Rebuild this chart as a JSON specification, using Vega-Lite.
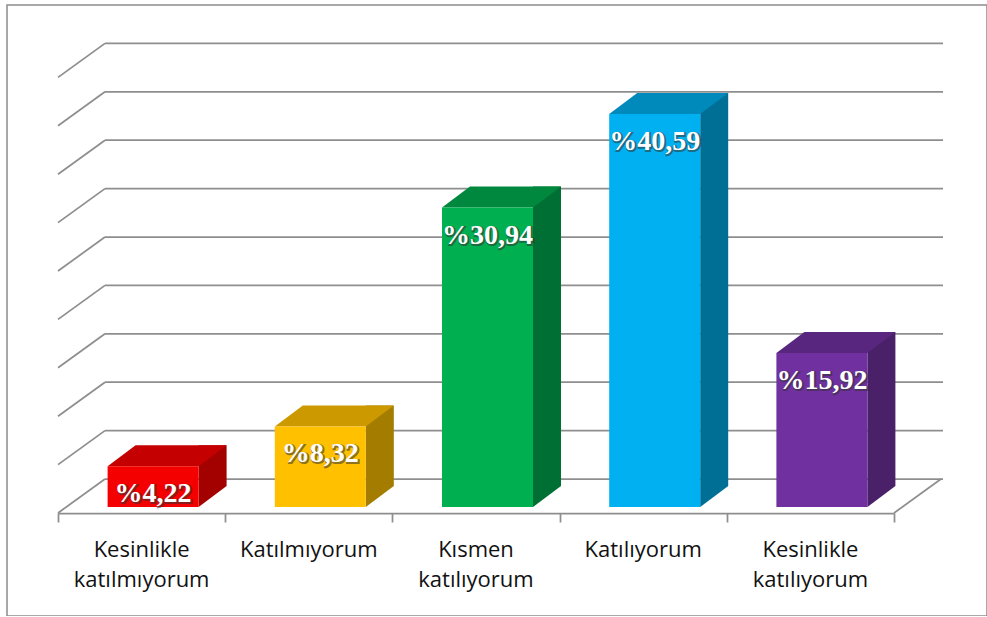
{
  "$schema": "https://vega.github.io/schema/vega-lite/v6.json",
  "width": 980,
  "height": 611,
  "autosize": {"type": "none"},
  "padding": {"left": 7, "top": 5, "right": 0, "bottom": 0},
  "background": "white",
  "config": {
    "view": {"stroke": "#8c8c8c", "strokeWidth": 1.5},
    "locale": {"number": {"decimal": ",", "thousands": ".", "grouping": [3], "currency": ["%", ""]}}
  },
  "datasets": {
    "grid": [{"g": 0}, {"g": 5}, {"g": 10}, {"g": 15}, {"g": 20}, {"g": 25}, {"g": 30}, {"g": 35}, {"g": 40}, {"g": 45}],
    "bars": [
      {"cat": "Kesinlikle katılmıyorum", "v": 4.22},
      {"cat": "Katılmıyorum", "v": 8.32},
      {"cat": "Kısmen katılıyorum", "v": 30.94},
      {"cat": "Katılıyorum", "v": 40.59},
      {"cat": "Kesinlikle katılıyorum", "v": 15.92}
    ]
  },
  "resolve": {"scale": {"x": "independent"}, "axis": {"x": "independent"}},
  "layer": [
    {
      "data": {"name": "grid"},
      "layer": [
        {
          "mark": {"type": "rule", "color": "#8e8e8e", "strokeWidth": 1.75, "xOffset": 47, "x2Offset": 49, "yOffset": -28},
          "encoding": {
            "x": {"datum": 0, "type": "quantitative", "scale": {"domain": [0, 5], "range": [51, 887], "nice": false, "zero": false},
              "axis": {"orient": "bottom", "offset": -103, "values": [0, 1, 2, 3, 4, 5], "labels": false, "ticks": true, "tickSize": 9, "tickColor": "#8e8e8e", "tickWidth": 1.75, "domain": true, "domainColor": "#8e8e8e", "domainWidth": 1.75, "grid": false, "title": null}},
            "x2": {"datum": 5},
            "y": {"field": "g", "type": "quantitative", "scale": {"domain": [0, 45], "range": [502, 66.4], "nice": false}, "axis": null}
          }
        },
        {
          "mark": {"type": "rule", "color": "#8e8e8e", "strokeWidth": 1.75, "yOffset": 6, "x2Offset": 47, "y2Offset": -28},
          "encoding": {
            "x": {"datum": 0, "type": "quantitative"},
            "x2": {"datum": 0},
            "y": {"field": "g", "type": "quantitative"},
            "y2": {"field": "g"}
          }
        },
        {
          "transform": [{"filter": "datum.g == 0"}],
          "mark": {"type": "rule", "color": "#8e8e8e", "strokeWidth": 1.75, "yOffset": 6, "x2Offset": 47, "y2Offset": -28},
          "encoding": {
            "x": {"datum": 5, "type": "quantitative"},
            "x2": {"datum": 5},
            "y": {"field": "g", "type": "quantitative"},
            "y2": {"field": "g"}
          }
        }
      ]
    },
    {
      "data": {"name": "bars"},
      "resolve": {"scale": {"color": "independent"}},
      "encoding": {
        "x": {"field": "cat", "type": "nominal", "sort": null,
          "scale": {"range": [51, 887], "paddingInner": 0, "paddingOuter": 0},
          "axis": {"orient": "bottom", "offset": -77, "ticks": false, "domain": false, "grid": false, "title": null, "labelAngle": 0, "labelPadding": 0,
            "labelFont": "Open Sans", "labelFontSize": 22, "labelColor": "#111111", "labelLineHeight": 30, "labelBaseline": "top",
            "labelExpr": "split(datum.label, ' ')"}}
      },
      "layer": [
        {
          "mark": {"type": "bar", "width": 28, "xOffset": 71, "yOffset": -21, "y2Offset": -21},
          "encoding": {
            "y": {"field": "v", "type": "quantitative", "scale": {"domain": [0, 45], "range": [502, 66.4], "nice": false}, "axis": null},
            "y2": {"datum": 0},
            "color": {"field": "cat", "type": "nominal", "legend": null,
              "scale": {"domain": ["Kesinlikle katılmıyorum", "Katılmıyorum", "Kısmen katılıyorum", "Katılıyorum", "Kesinlikle katılıyorum"],
                "range": ["#a30000", "#a37c00", "#006f33", "#006f96", "#4a2069"]}}
          }
        },
        {
          "mark": {"type": "point", "shape": "M45.5,-21 L45.5,0 L73.5,-21 Z", "size": 4, "filled": true, "opacity": 1, "strokeWidth": 0, "xOffset": 11.5},
          "encoding": {
            "y": {"datum": 0, "type": "quantitative"},
            "color": {"field": "cat", "type": "nominal", "legend": null,
              "scale": {"domain": ["Kesinlikle katılmıyorum", "Katılmıyorum", "Kısmen katılıyorum", "Katılıyorum", "Kesinlikle katılıyorum"],
                "range": ["#a30000", "#a37c00", "#006f33", "#006f96", "#4a2069"]}}
          }
        },
        {
          "mark": {"type": "point", "shape": "M-45.5,0 L45.5,0 L73.5,-21 L-17.5,-21 Z", "size": 4, "filled": true, "opacity": 1, "strokeWidth": 0, "xOffset": 11.5},
          "encoding": {
            "y": {"field": "v", "type": "quantitative"},
            "color": {"field": "cat", "type": "nominal", "legend": null,
              "scale": {"domain": ["Kesinlikle katılmıyorum", "Katılmıyorum", "Kısmen katılıyorum", "Katılıyorum", "Kesinlikle katılıyorum"],
                "range": ["#c40000", "#cc9900", "#00893e", "#0089bb", "#58267e"]}}
          }
        },
        {
          "mark": {"type": "bar", "width": 91, "xOffset": 11.5},
          "encoding": {
            "y": {"field": "v", "type": "quantitative"},
            "color": {"field": "cat", "type": "nominal", "legend": null,
              "scale": {"domain": ["Kesinlikle katılmıyorum", "Katılmıyorum", "Kısmen katılıyorum", "Katılıyorum", "Kesinlikle katılıyorum"],
                "range": ["#f50000", "#ffc000", "#00b050", "#00b0f0", "#7030a0"]}}
          }
        },
        {
          "mark": {"type": "text", "font": "Liberation Serif", "fontWeight": "bold", "fontSize": 28, "baseline": "middle", "align": "center",
            "dx": 12.5, "dy": 29, "fill": "#333333", "stroke": "#333333", "strokeWidth": 2, "opacity": 0.55},
          "encoding": {
            "y": {"field": "v", "type": "quantitative"},
            "text": {"field": "v", "type": "quantitative", "format": "$.2f"}
          }
        },
        {
          "mark": {"type": "text", "font": "Liberation Serif", "fontWeight": "bold", "fontSize": 28, "baseline": "middle", "align": "center",
            "dx": 11.5, "dy": 28, "fill": "white"},
          "encoding": {
            "y": {"field": "v", "type": "quantitative"},
            "text": {"field": "v", "type": "quantitative", "format": "$.2f"}
          }
        }
      ]
    }
  ]
}
